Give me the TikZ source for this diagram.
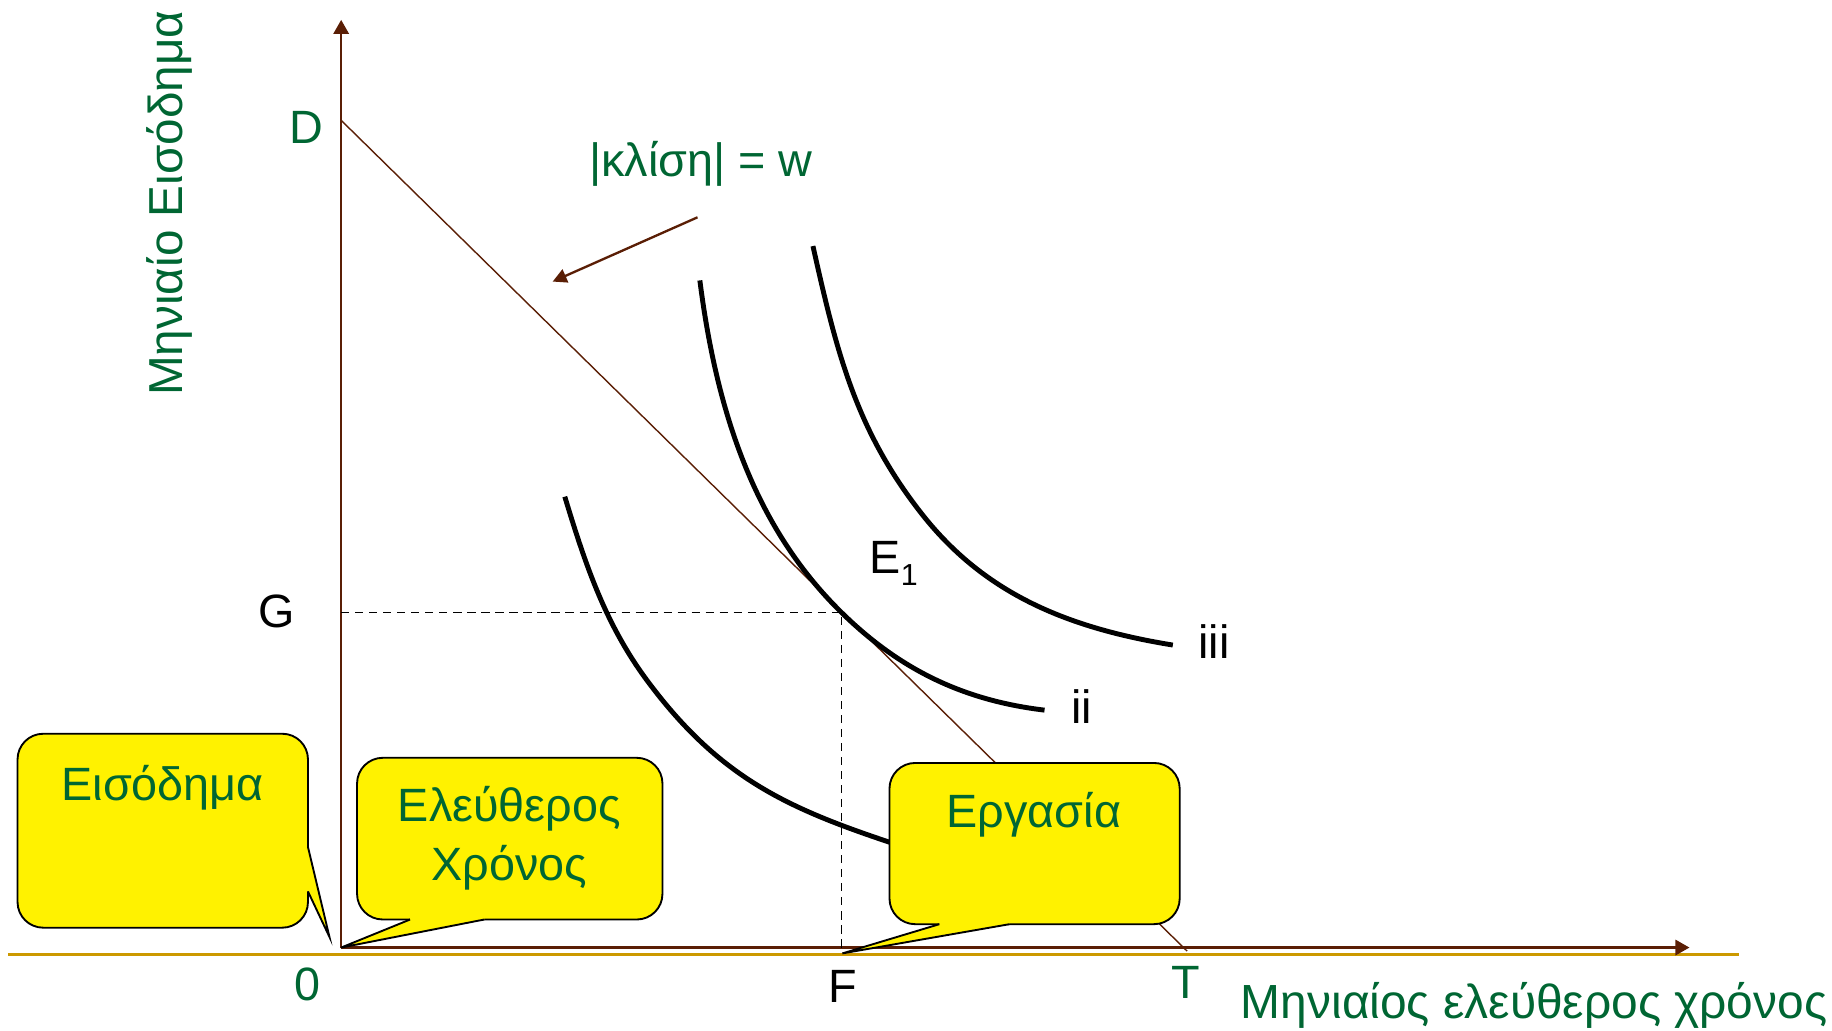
\documentclass[tikz,border=0pt]{standalone}
\usepackage{fontspec}
\setmainfont{Liberation Sans}
\usetikzlibrary{arrows.meta, calc}
\definecolor{labelgreen}{RGB}{0,102,51}
\definecolor{axisbrown}{RGB}{90,30,5}
\definecolor{baselinegold}{RGB}{204,153,0}
\def\notefill{yellow}
\newcommand{\callpointer}[4]{%
	\fill[\notefill] ($(#1)+#4$) -- (#1) -- (#3) -- (#2) -- ($(#2)+#4$) -- cycle;
	\draw[line width = 0.8pt] (#1) -- (#3) -- (#2);
}

\begin{document}
\begin{tikzpicture}[x = 0.5pt, y = -0.5pt,
	note/.style = {draw = black, line width = 0.8pt, fill = \notefill, rounded corners = 11pt, inner sep = 0pt},
	greentext/.style = {text = labelgreen, font = \fontsize{20}{25}\selectfont},
	blacktext/.style = {text = black, font = \fontsize{20}{25}\selectfont},
	indiff/.style = {black, line width = 2.1pt}]
	\useasboundingbox (0, 0) rectangle (1568, 882.4);
	% axes
	\coordinate (O) at (292, 811);
	\coordinate (ytop) at (292, 17);
	\coordinate (xend) at (1446, 811);
	\coordinate (goldL) at (7, 817);
	\coordinate (goldR) at (1488, 817);
	\draw[baselinegold, line width = 1.4pt] (goldL) -- (goldR);
	\draw[axisbrown, line width = 1.1pt, -{Triangle[length = 6pt, width = 6.5pt]}] (O) -- (ytop);
	\draw[axisbrown, line width = 1.1pt, -{Triangle[length = 6pt, width = 6.5pt]}] (O) -- (xend);
	% budget line and the point E1
	\coordinate (D) at (292, 103);
	\coordinate (T) at (1016, 814);
	\coordinate (E) at (720, 524);
	\coordinate (Gy) at (292, 524);
	\coordinate (Fx) at (720, 812);
	\draw[axisbrown, line width = 0.6pt] (D) -- (T);
	\draw[black, line width = 0.6pt, dash pattern = on 3.5pt off 2.5pt] (Gy) -- (E) -- (Fx);
	% indifference curves
	\draw[indiff] (483.4, 425.1) .. controls (500.8, 482.5) and (517.9, 533.9) .. (553.6, 582.1)
		.. controls (619.1, 670.5) and (680.3, 694.5) .. (780, 727);
	\draw[indiff] (599, 240) .. controls (614.1, 359) and (648.7, 453.9) .. (E)
		.. controls (769.9, 573.1) and (824.5, 599.5) .. (894, 607.8);
	\draw[indiff] (695.8, 210.6) .. controls (716.4, 303.3) and (733.1, 368.6) .. (788.6, 439.4)
		.. controls (841, 506.3) and (910, 536.9) .. (1003.8, 552.1);
	% slope note
	\coordinate (slopefrom) at (597, 186);
	\coordinate (slopeto) at (473, 241);
	\draw[axisbrown, line width = 1pt, -{Triangle[length = 6pt, width = 6pt]}] (slopefrom) -- (slopeto);
	\node[greentext, anchor = base] (slopetext) at (600, 151) {|κλίση| = w};
	% callouts
	\node[note, minimum width = 124.3pt, minimum height = 83pt] (incbox) at (139.3, 711) {};
	\node[note, minimum width = 130.7pt, minimum height = 69.2pt] (freebox) at (436.3, 717.8) {};
	\node[note, minimum width = 124.2pt, minimum height = 69pt] (workbox) at (885.5, 722) {};
	\coordinate (inc1) at (263.6, 725);
	\coordinate (inc2) at (263.6, 763);
	\coordinate (inctip) at (282, 802);
	\callpointer{inc1}{inc2}{inctip}{(-3, 0)}
	\coordinate (free1) at (351, 787);
	\coordinate (free2) at (414.5, 787);
	\callpointer{free1}{free2}{O}{(0, -3)}
	\coordinate (work1) at (804, 791);
	\coordinate (work2) at (864, 791);
	\coordinate (worktip) at (721, 816);
	\callpointer{work1}{work2}{worktip}{(0, -3)}
	\node[greentext, anchor = base] (inctext) at (139.3, 685) {Εισόδημα};
	\node[greentext, anchor = base, align = center] (freetext) at (436, 753.3) {Ελεύθερος\\Χρόνος};
	\node[greentext, anchor = base] (worktext) at (885, 708) {Εργασία};
	% point labels
	\node[greentext, anchor = base] (Dlabel) at (262, 123) {D};
	\node[blacktext, anchor = base] (Glabel) at (237, 537) {G};
	\node[greentext, anchor = base] (Olabel) at (263.6, 856) {0};
	\node[blacktext, anchor = base] (Flabel) at (721, 858) {F};
	\node[greentext, anchor = base] (Tlabel) at (1015, 854.5) {T};
	\node[blacktext, anchor = base west, inner sep = 0pt] (E1label) at (744, 491) {E\raisebox{-5pt}{\fontsize{13}{15}\selectfont 1}};
	\node[blacktext, anchor = base] (iilabel) at (926, 619) {ii};
	\node[blacktext, anchor = base] (iiilabel) at (1039, 563.5) {iii};
	% axis titles
	\node[greentext, anchor = base, font = \fontsize{20.5}{25}\selectfont] (xlabel) at (1313, 871.7) {Μηνιαίος ελεύθερος χρόνος};
	\node[greentext, anchor = base, rotate = 90, font = \fontsize{20.4}{25}\selectfont] (ylabel) at (156, 174) {Μηνιαίο Εισόδημα};
\end{tikzpicture}
\end{document}
